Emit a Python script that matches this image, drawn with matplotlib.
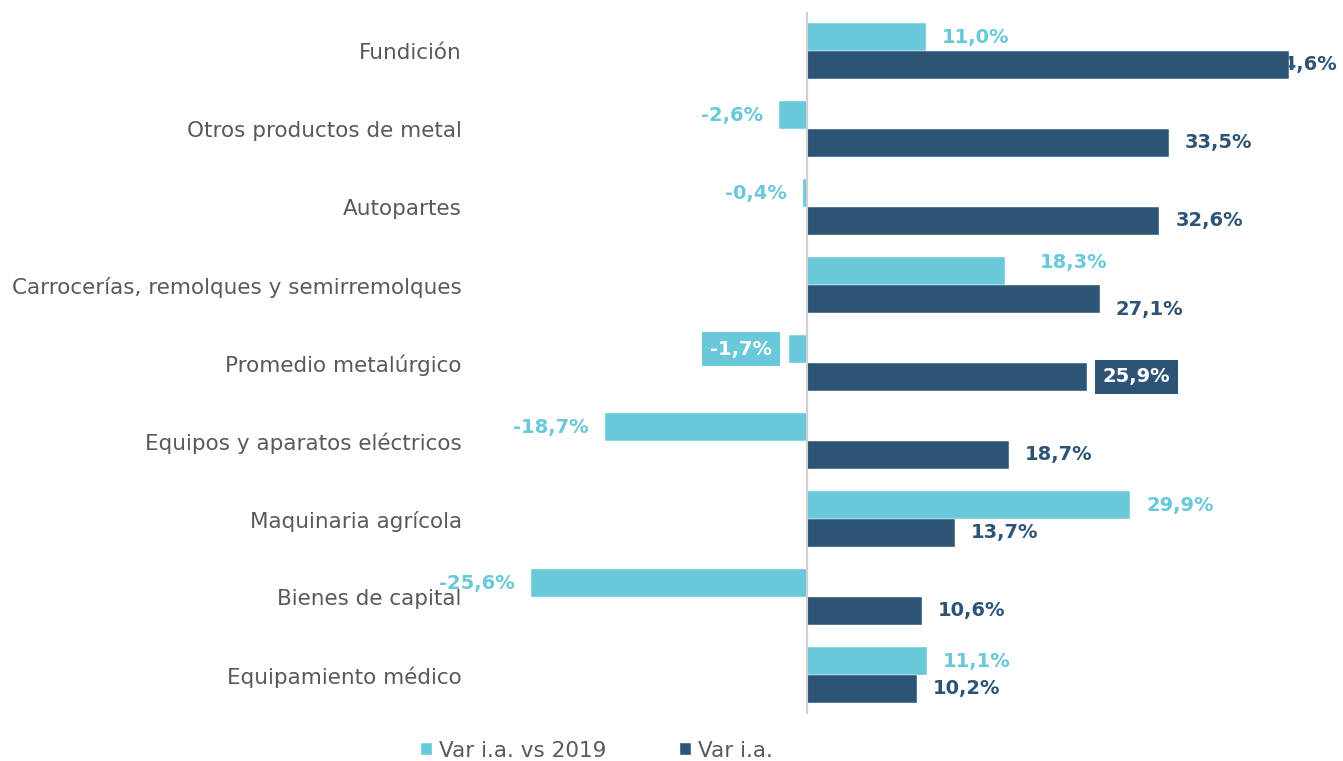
import numpy as np
import matplotlib.pyplot as plt

categorias = ["Fundición", "Otros productos de metal", "Autopartes",
              "Carrocerías, remolques y semirremolques", "Promedio metalúrgico",
              "Equipos y aparatos eléctricos", "Maquinaria agrícola",
              "Bienes de capital", "Equipamiento médico"]
var_2019 = [11.0, -2.6, -0.4, 18.3, -1.7, -18.7, 29.9, -25.6, 11.1]
var_ia = [44.6, 33.5, 32.6, 27.1, 25.9, 18.7, 13.7, 10.6, 10.2]

c_light = "#69C8DA"
c_dark = "#2D5477"
c_text = "#595959"

fig = plt.figure(figsize=(13.43, 7.61), dpi=100)
ax = fig.add_axes([470 / 1343, 47 / 761, 873 / 1343, 702 / 761])

y = np.arange(len(categorias))
h = 0.355
ax.barh(y - 0.178, var_2019, height=h, color=c_light, edgecolor="white", linewidth=0.3, zorder=3,
        label="Var i.a. vs 2019")
ax.barh(y + 0.178, var_ia, height=h, color=c_dark, edgecolor="white", linewidth=0.3, zorder=3,
        label="Var i.a.")

ax.set_xlim(-31.2, 49.6)
ax.set_ylim(8.5, -0.5)
ax.axvline(0, color="#D0D0D0", linewidth=1.5, zorder=4)

ax.set_yticks(y)
ax.set_yticklabels(categorias, fontsize=15.5, color=c_text)
ax.tick_params(axis="y", length=0, pad=6)
ax.set_xticks([])
for s in ax.spines.values():
    s.set_visible(False)


def fmt(v):
    return f"{v:.1f}%".replace(".", ",")


off = 11.5  # points between bar end and label
fs = 14
for i, v in enumerate(var_2019):
    dx, dy = (off if v >= 0 else -off), 0
    if i == 3:
        dx, dy = 25, 6.5
    kw = {}
    col = c_light
    if i == 4:
        kw["bbox"] = dict(boxstyle="square,pad=0.4", fc=c_light, ec="none")
        col = "white"
        dx = -12
    ax.annotate(fmt(v), (v, i - 0.178), xytext=(dx, dy), textcoords="offset points",
                ha="left" if v >= 0 else "right", va="center", fontsize=fs,
                fontweight="bold", color=col, zorder=5, annotation_clip=False, **kw)

for i, v in enumerate(var_ia):
    dx, dy = off, 0
    if i == 3:
        dy = -8
    kw = {}
    col = c_dark
    z = 5
    if i == 0:
        dx = -14
        z = 2
    if i == 4:
        kw["bbox"] = dict(boxstyle="square,pad=0.4", fc=c_dark, ec="none")
        col = "white"
    ax.annotate(fmt(v), (v, i + 0.178), xytext=(dx, dy), textcoords="offset points",
                ha="left", va="center", fontsize=fs, fontweight="bold", color=col,
                zorder=z, annotation_clip=False, **kw)

leg = fig.legend(loc="center", bbox_to_anchor=(597 / 1343, 10 / 761), ncol=2, frameon=False,
                 fontsize=15.5, handlelength=0.5, handleheight=0.5, handletextpad=0.35,
                 columnspacing=3.4)
for t in leg.get_texts():
    t.set_color(c_text)

fig.savefig("out.png", dpi=100)
